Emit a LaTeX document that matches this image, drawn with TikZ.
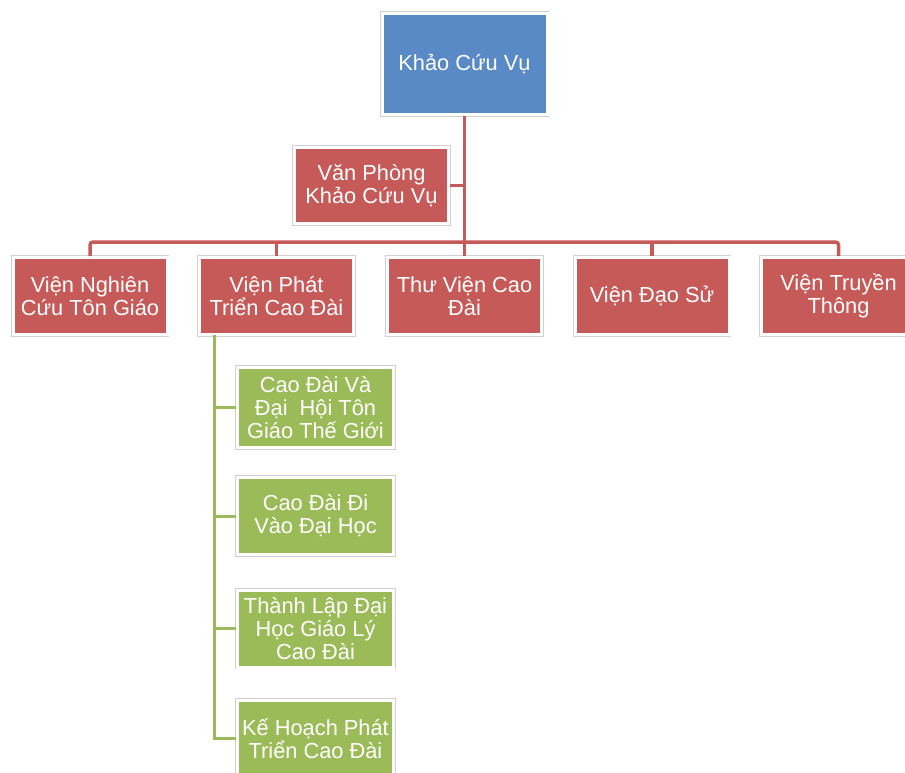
\documentclass[tikz,border=0pt]{standalone}
\usepackage{fontspec}
\setmainfont{Liberation Sans}
\definecolor{boxblue}{HTML}{5A8AC6}
\definecolor{boxred}{HTML}{C55A58}
\definecolor{boxgreen}{HTML}{9BBB59}
\definecolor{rimgray}{HTML}{D0D0D0}
\tikzset{
  orgbox/.style={rectangle, inner sep=0pt, align=center, text=white,
    font=\fontsize{21.8}{23.2}\selectfont,
    preaction={draw=rimgray, line width=4.6pt},
    draw=white, line width=3pt},
  bluebox/.style={orgbox, fill=boxblue, minimum width=165pt, minimum height=101pt},
  redbox/.style={orgbox, fill=boxred, minimum width=154pt, minimum height=77pt},
  greenbox/.style={orgbox, fill=boxgreen, minimum width=156pt, minimum height=77pt},
  redline/.style={draw=boxred, line width=3.5pt},
  greenline/.style={draw=boxgreen, line width=3pt}
}
\begin{document}
\begin{tikzpicture}[x=1pt, y=-1pt]
\useasboundingbox[fill=white] (0,0) rectangle (905,773);
\coordinate (bus) at (464.5,242);
\coordinate (gtop) at (214,334.5);
\node[bluebox] (top) at (464.5,64) {Khảo Cứu Vụ};
\node[redbox, minimum height=76pt] (vp) at (371.5,185.5) {Văn Phòng\\Khảo Cứu Vụ};
\node[redbox] (l1) at (90,296) {Viện Nghiên\\Cứu Tôn Giáo};
\node[redbox] (l2) at (276.5,296) {Viện Phát\\Triển Cao Đài};
\node[redbox] (l3) at (464.5,296) {Thư Viện Cao\\Đài};
\node[redbox] (l4) at (652,296) {Viện Đạo Sử};
\node[redbox] (l5) at (838.5,296) {Viện Truyền\\Thông};
\node[greenbox, minimum height=80pt] (g1) at (315.5,407.5) {Cao Đài Và\\Đại~~Hội Tôn\\Giáo Thế Giới};
\node[greenbox] (g2) at (315.5,516) {Cao Đài Đi\\Vào Đại Học};
\node[greenbox] (g3) at (315.5,628.5) {Thành Lập Đại\\Học Giáo Lý\\Cao Đài};
\node[greenbox] (g4) at (315.5,738.5) {Kế Hoạch Phát\\Triển Cao Đài};
\draw[redline] (top.south) -- (l3.north);
\draw[redline, rounded corners=3pt] (l1.north) |- (bus) -| (l5.north);
\draw[redline] (l2.north) -- (l2.north |- bus);
\draw[redline] (l4.north) -- (l4.north |- bus);
\draw[redline] (vp.east) -- (vp.east -| bus);
\draw[greenline] (gtop) |- (g4.west);
\draw[greenline] (g1.west) -- (g1.west -| gtop);
\draw[greenline] (g2.west) -- (g2.west -| gtop);
\draw[greenline] (g3.west) -- (g3.west -| gtop);
\end{tikzpicture}
\end{document}
